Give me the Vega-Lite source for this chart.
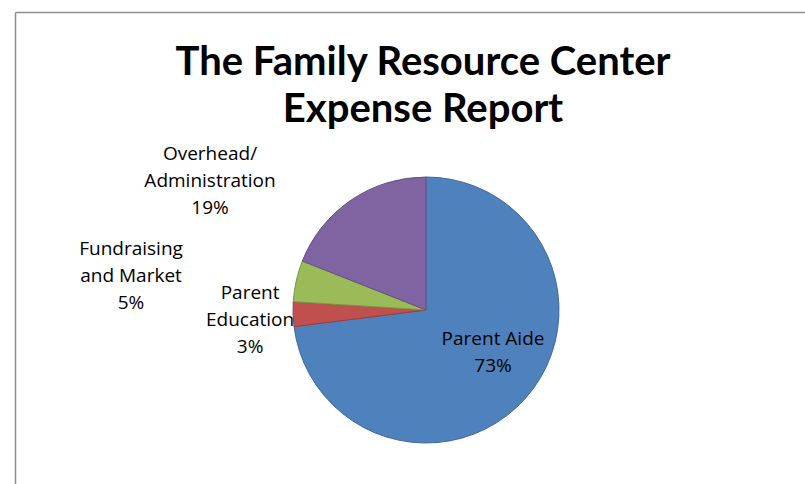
{
  "$schema": "https://vega.github.io/schema/vega-lite/v6.json",
  "autosize": "none",
  "width": 790,
  "height": 472,
  "padding": {"left": 15, "top": 12, "right": 0, "bottom": 0},
  "background": "white",
  "config": {
    "view": {"stroke": "transparent", "strokeWidth": 0, "fill": "transparent"},
    "style": {"cell": {"stroke": "transparent", "strokeWidth": 0}}
  },
  "title": {
    "text": ["The Family Resource Center", "Expense Report"],
    "font": "Lato",
    "fontSize": 40,
    "fontWeight": "bold",
    "color": "#000000",
    "lineHeight": 47,
    "anchor": "middle",
    "frame": "group",
    "baseline": "top",
    "offset": -118,
    "dx": 13
  },
  "data": {
    "values": [
      {"idx": 1, "category": "Parent Aide", "share": 73, "label": "Parent Aide\n73%"},
      {"idx": 2, "category": "Parent Education", "share": 3, "label": "Parent\nEducation\n3%"},
      {"idx": 3, "category": "Fundraising and Market", "share": 5, "label": "Fundraising\nand Market\n5%"},
      {"idx": 4, "category": "Overhead/Administration", "share": 19, "label": "Overhead/\nAdministration\n19%"}
    ]
  },
  "layer": [
    {
      "mark": {"type": "point", "opacity": 0, "size": 1},
      "encoding": {
        "x": {"datum": 0.5, "type": "quantitative", "scale": {"domain": [0, 1]},
              "axis": {"orient": "top", "domain": true, "domainColor": "#8f8f8f", "domainWidth": 1.5, "ticks": false, "labels": false, "grid": false, "title": null}},
        "y": {"datum": 0.5, "type": "quantitative", "scale": {"domain": [0, 1]},
              "axis": {"orient": "left", "domain": true, "domainColor": "#8f8f8f", "domainWidth": 1.5, "ticks": false, "labels": false, "grid": false, "title": null}}
      }
    },
    {
      "mark": {"type": "arc", "outerRadius": 133, "strokeWidth": 1, "xOffset": 16, "yOffset": 62},
      "encoding": {
        "theta": {"field": "share", "type": "quantitative", "stack": true},
        "order": {"field": "idx", "type": "quantitative"},
        "color": {
          "field": "category", "type": "nominal", "legend": null,
          "scale": {"domain": ["Parent Aide", "Parent Education", "Fundraising and Market", "Overhead/Administration"],
                    "range": ["#4F81BD", "#C0504D", "#9BBB59", "#8064A2"]}
        },
        "stroke": {
          "field": "category", "type": "nominal", "legend": null,
          "scale": {"domain": ["Parent Aide", "Parent Education", "Fundraising and Market", "Overhead/Administration"],
                    "range": ["#3E6899", "#9B3D3A", "#7A9645", "#654E84"]}
        }
      }
    },
    {
      "mark": {"type": "text", "radius": 78, "dx": 24.5, "dy": 39.5, "font": "Open Sans", "fontSize": 19, "lineHeight": 27, "lineBreak": "\n", "align": "center", "baseline": "middle", "color": "#000000"},
      "encoding": {
        "theta": {"field": "share", "type": "quantitative", "stack": true},
        "order": {"field": "idx", "type": "quantitative"},
        "text": {"condition": {"test": "datum.category === 'Parent Aide'", "field": "label"}, "value": ""}
      }
    },
    {
      "mark": {"type": "text", "radius": 176, "dx": 16, "dy": 39.5, "font": "Open Sans", "fontSize": 19, "lineHeight": 27, "lineBreak": "\n", "align": "center", "baseline": "middle", "color": "#000000"},
      "encoding": {
        "theta": {"field": "share", "type": "quantitative", "stack": true},
        "order": {"field": "idx", "type": "quantitative"},
        "text": {"condition": {"test": "datum.category === 'Parent Education'", "field": "label"}, "value": ""}
      }
    },
    {
      "mark": {"type": "text", "radius": 295.6, "dx": 9.5, "dy": 65, "font": "Open Sans", "fontSize": 19, "lineHeight": 27, "lineBreak": "\n", "align": "center", "baseline": "middle", "color": "#000000"},
      "encoding": {
        "theta": {"field": "share", "type": "quantitative", "stack": true},
        "order": {"field": "idx", "type": "quantitative"},
        "text": {"condition": {"test": "datum.category === 'Fundraising and Market'", "field": "label"}, "value": ""}
      }
    },
    {
      "mark": {"type": "text", "radius": 227.7, "dx": -72, "dy": 94.8, "font": "Open Sans", "fontSize": 19, "lineHeight": 27, "lineBreak": "\n", "align": "center", "baseline": "middle", "color": "#000000"},
      "encoding": {
        "theta": {"field": "share", "type": "quantitative", "stack": true},
        "order": {"field": "idx", "type": "quantitative"},
        "text": {"condition": {"test": "datum.category === 'Overhead/Administration'", "field": "label"}, "value": ""}
      }
    }
  ]
}
